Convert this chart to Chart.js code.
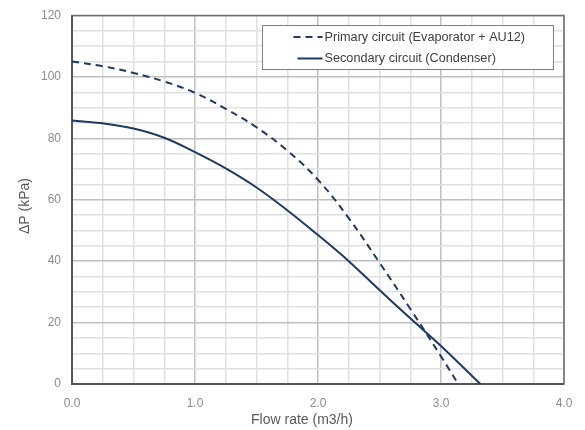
<!DOCTYPE html>
<html>
<head>
<meta charset="utf-8">
<script src="https://cdn.jsdelivr.net/npm/chart.js@4/dist/chart.umd.min.js"></script>
<style>
  html, body { margin: 0; padding: 0; background: #fff; }
  #wrap { width: 585px; height: 430px; }
</style>
</head>
<body>
<div id="wrap"><canvas id="chart" width="585" height="430"></canvas></div>
<script>
const primaryX = [0, 0.25, 0.5, 0.75, 1.0, 1.25, 1.5, 1.75, 2.0, 2.25, 2.5, 2.75, 3.0, 3.14];
const primaryY = [105, 103.5, 101.3, 98.5, 94.8, 89.6, 83.6, 76, 66.5, 54, 39.5, 24.5, 9, 0];
const secondaryX = [0, 0.25, 0.5, 0.75, 1.0, 1.25, 1.5, 1.75, 2.0, 2.25, 2.5, 2.75, 3.0, 3.32];
const secondaryY = [85.8, 84.9, 83.2, 80.2, 75.5, 70.2, 64, 56.6, 48.5, 40, 30.6, 21.4, 12.4, 0];
const seriesNames = ['Primary circuit (Evaporator + AU12)', 'Secondary circuit (Condenser)'];
const xTickLabels = ['0.0', '1.0', '2.0', '3.0', '4.0'];
const yTickLabels = ['0', '20', '40', '60', '80', '100', '120'];
const xTitle = 'Flow rate (m3/h)';
const yTitle = 'ΔP (kPa)';

const navy = '#1f3a60';
const font = 'Liberation Sans';

const toPoints = (xs, ys) => xs.map((x, i) => ({ x: x, y: ys[i] }));

// legend box inside the plot, drawn by hand
const boxLegend = {
  id: 'boxLegend',
  afterDraw(chart) {
    const c = chart.ctx;
    const left = 262.5, top = 25.5, w = 291, h = 44;
    c.save();
    c.fillStyle = '#fff';
    c.fillRect(left, top, w, h);
    c.strokeStyle = '#7f7f7f';
    c.lineWidth = 1;
    c.strokeRect(left, top, w, h);
    c.font = '12.7px "' + font + '"';
    c.textBaseline = 'middle';
    chart.data.datasets.forEach((ds, i) => {
      const y = top + 11.5 + i * 21.5;
      c.strokeStyle = ds.borderColor;
      c.lineWidth = 2;
      c.setLineDash(ds.borderDash || []);
      c.beginPath();
      c.moveTo(left + (ds.borderDash ? 31 : 35), y);
      c.lineTo(left + 60, y);
      c.stroke();
      c.setLineDash([]);
      c.fillStyle = '#404040';
      c.fillText(ds.label, left + 62, y);
    });
    c.restore();
  }
};

// axis titles
const axisTitles = {
  id: 'axisTitles',
  afterDraw(chart) {
    const c = chart.ctx;
    c.save();
    c.fillStyle = '#595959';
    c.font = '14px "' + font + '"';
    c.textAlign = 'center';
    c.textBaseline = 'middle';
    c.fillText(xTitle, 302, 420);
    c.translate(25, 206);
    c.rotate(-Math.PI / 2);
    c.fillText(yTitle, 0, 0);
    c.restore();
  }
};

// darker frame round the plot area
const frame = {
  id: 'frame',
  beforeDatasetsDraw(chart) {
    const a = chart.chartArea;
    const c = chart.ctx;
    c.save();
    c.strokeStyle = '#6e6e6e';
    c.lineWidth = 1.5;
    c.strokeRect(a.left, a.top, a.right - a.left, a.bottom - a.top);
    c.lineWidth = 2;
    c.strokeStyle = '#555';
    c.beginPath();
    c.moveTo(a.left, a.top);
    c.lineTo(a.left, a.bottom);
    c.lineTo(a.right, a.bottom);
    c.stroke();
    c.restore();
  }
};

new Chart(document.getElementById('chart'), {
  type: 'line',
  data: {
    datasets: [
      {
        label: seriesNames[0],
        data: toPoints(primaryX, primaryY),
        borderColor: navy,
        borderWidth: 2,
        borderDash: [7, 5],
        pointRadius: 0,
        tension: 0.4,
        fill: false
      },
      {
        label: seriesNames[1],
        data: toPoints(secondaryX, secondaryY),
        borderColor: navy,
        borderWidth: 2,
        pointRadius: 0,
        tension: 0.4,
        fill: false
      }
    ]
  },
  options: {
    responsive: false,
    animation: false,
    layout: { padding: { top: 15.5, right: 21, left: 0, bottom: 0 } },
    plugins: {
      legend: { display: false },
      tooltip: { enabled: false }
    },
    scales: {
      x: {
        type: 'linear',
        min: 0,
        max: 4,
        afterFit: s => { s.height = 46; s.paddingRight = 0; s.paddingLeft = 0; },
        ticks: {
          stepSize: 0.25,
          autoSkip: false,
          maxRotation: 0,
          padding: 12,
          color: '#8c8c8c',
          font: { family: font, size: 12 },
          callback: v => Number.isInteger(v) ? xTickLabels[v] : ''
        },
        grid: {
          drawTicks: false,
          color: ctx => Number.isInteger(ctx.tick.value) ? '#c0c0c0' : '#e0e0e0',
          lineWidth: 1.5
        },
        border: { display: false }
      },
      y: {
        min: 0,
        max: 120,
        afterFit: s => { s.width = 72; s.paddingTop = 0; s.paddingBottom = 0; },
        ticks: {
          stepSize: 5,
          autoSkip: false,
          padding: 11,
          color: '#8c8c8c',
          font: { family: font, size: 12 },
          callback: v => v % 20 === 0 ? yTickLabels[v / 20] : ''
        },
        grid: {
          drawTicks: false,
          color: ctx => ctx.tick.value % 20 === 0 ? '#c0c0c0' : '#e0e0e0',
          lineWidth: 1.5
        },
        border: { display: false }
      }
    }
  },
  plugins: [frame, boxLegend, axisTitles]
});
</script>
</body>
</html>
